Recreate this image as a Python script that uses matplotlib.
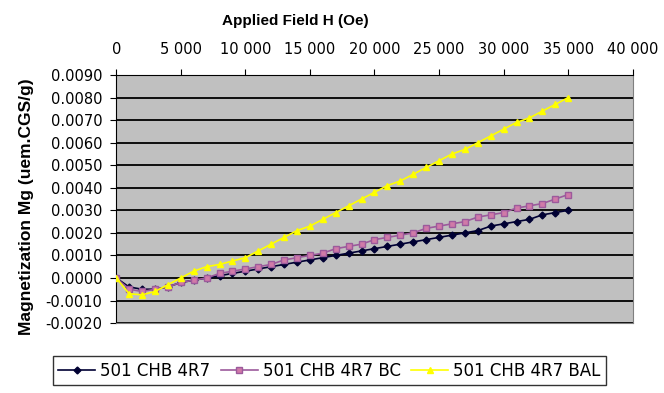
import numpy as np
import matplotlib.pyplot as plt
from matplotlib.ticker import FuncFormatter

plt.rcParams['font.family'] = ['DejaVu Sans']

field = np.arange(0, 36000, 1000)

m_4r7 = [0.0000, -0.0004, -0.0005, -0.0005, -0.0004, -0.0002, -0.0001, 0.0000,
         0.0001, 0.0002, 0.0003, 0.0004, 0.0005, 0.0006, 0.0007, 0.0008,
         0.0009, 0.0010, 0.0011, 0.0012, 0.0013, 0.0014, 0.0015, 0.0016,
         0.0017, 0.0018, 0.0019, 0.0020, 0.0021, 0.0023, 0.0024, 0.0025,
         0.0026, 0.0028, 0.0029, 0.0030]
m_4r7_bc = [0.0000, -0.0005, -0.0006, -0.0005, -0.0004, -0.0002, -0.0001, 0.0000,
            0.0002, 0.0003, 0.0004, 0.0005, 0.0006, 0.0008, 0.0009, 0.0010,
            0.0011, 0.0013, 0.0014, 0.0015, 0.0017, 0.0018, 0.0019, 0.0020,
            0.0022, 0.0023, 0.0024, 0.0025, 0.0027, 0.0028, 0.0029, 0.0031,
            0.0032, 0.0033, 0.0035, 0.0037]
m_4r7_bal = [0.0000, -0.0007, -0.00075, -0.0006, -0.0003, 0.0000, 0.0003, 0.0005,
             0.0006, 0.00075, 0.0009, 0.0012, 0.0015, 0.0018, 0.0021, 0.0023,
             0.0026, 0.0029, 0.0032, 0.0035, 0.0038, 0.0041, 0.0043, 0.0046,
             0.0049, 0.0052, 0.0055, 0.0057, 0.0060, 0.0063, 0.0066, 0.0069,
             0.0071, 0.0074, 0.0077, 0.0080]

fig = plt.figure(figsize=(6.64, 3.93), dpi=100)
ax = fig.add_axes([0.175, 0.178, 0.778, 0.631])
ax.set_facecolor('#c0c0c0')

ax.plot(field, m_4r7, color='#000033', marker='D', markersize=3.5,
        linewidth=1.2, label='501 CHB 4R7', zorder=3)
ax.plot(field, m_4r7_bc, color='#9c5a9c', marker='s', markersize=4,
        markerfacecolor='#d07aa8', markeredgecolor='#9c5a9c',
        linewidth=1.2, label='501 CHB 4R7 BC', zorder=3)
ax.plot(field, m_4r7_bal, color='#ffff00', marker='^', markersize=5,
        linewidth=1.2, label='501 CHB 4R7 BAL', zorder=4)

ax.set_xlim(0, 40000)
ax.set_ylim(-0.002, 0.009)
ax.set_xticks(np.arange(0, 40001, 5000))
ax.set_yticks(np.arange(-0.002, 0.00901, 0.001))
ax.xaxis.set_major_formatter(FuncFormatter(lambda v, p: f'{int(v):,}'.replace(',', ' ')))
ax.yaxis.set_major_formatter(FuncFormatter(lambda v, p: f'{v:.4f}'))
ax.xaxis.tick_top()
ax.xaxis.set_label_position('top')
ax.tick_params(axis='both', labelsize=10.5, direction='out', length=4, color='black')
ax.tick_params(axis='x', pad=9)
ax.tick_params(axis='y', pad=6)
ax.grid(axis='y', color='black', linewidth=1.3)
ax.set_axisbelow(True)
for s in ax.spines.values():
    s.set_color('#808080')
ax.spines['left'].set_color('black')
ax.spines['top'].set_color('black')

ax.set_xlabel('Applied Field H (Oe)', fontsize=11, fontweight='bold',
              family='Liberation Sans')
ax.xaxis.set_label_coords(0.346, 1.20)
ax.set_ylabel('Magnetization Mg (uem.CGS/g)', fontsize=12.5, fontweight='bold',
              family='Liberation Sans')
ax.yaxis.set_label_coords(-0.16, 0.47)

leg = fig.legend(loc='center', bbox_to_anchor=(0.496, 0.057), ncol=3, fontsize=12,
                 frameon=True, fancybox=False, edgecolor='black',
                 handlelength=2.2, columnspacing=0.65, handletextpad=0.3,
                 borderpad=0.33)
leg.get_frame().set_linewidth(1.0)

fig.savefig('out.png', dpi=100)
